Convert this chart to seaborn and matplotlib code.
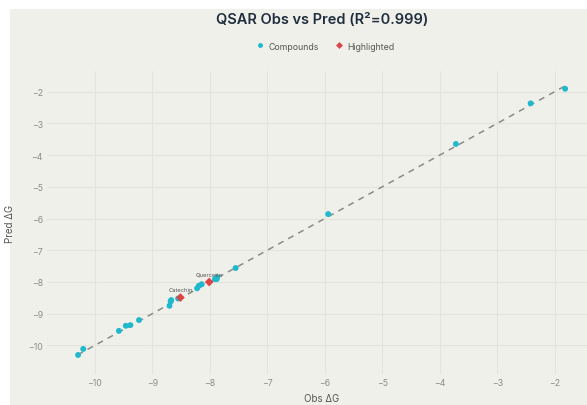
import numpy as np
import pandas as pd
import seaborn as sns
import matplotlib.pyplot as plt
from matplotlib.patches import Rectangle
from matplotlib.lines import Line2D

# data
obs_vals = [-10.29, -10.20, -9.58, -9.46, -9.38, -9.23, -8.70, -8.68, -8.67, -8.55,
            -8.22, -8.19, -8.14, -7.91, -7.87, -7.88, -7.55, -5.94, -3.72, -2.42, -1.82]
pred_vals = [-10.30, -10.11, -9.54, -9.38, -9.36, -9.20, -8.75, -8.61, -8.57, -8.52,
             -8.20, -8.12, -8.07, -7.91, -7.85, -7.91, -7.56, -5.86, -3.65, -2.37, -1.91]
hl_names = ["Catechin", "Quercetin"]
hl_obs = [-8.51, -8.01]
hl_pred = [-8.49, -8.00]
x_ticks = [-10, -9, -8, -7, -6, -5, -4, -3, -2]
y_ticks = [-10, -9, -8, -7, -6, -5, -4, -3, -2]
r2 = 0.999

bg = "#f0f0eb"
cyan = "#1fb8cd"
red = "#db4545"

sns.set_style("whitegrid", {"axes.facecolor": bg, "grid.color": "#e4e4de"})
plt.rcParams['font.family'] = ['Inter', 'DejaVu Sans']

df = pd.DataFrame({"obs": obs_vals, "pred": pred_vals})
hl = pd.DataFrame({"name": hl_names, "obs": hl_obs, "pred": hl_pred})

fig = plt.figure(figsize=(5.87, 4.06), dpi=100, facecolor="white")
fig.patches.append(Rectangle((10 / 587, 0), 1, 1 - 10 / 406, transform=fig.transFigure,
                             facecolor=bg, edgecolor="none", zorder=-1))
ax = fig.add_axes([47 / 587, 1 - 375 / 406, 540 / 587, (375 - 72) / 406])

# ideal line
lo = min(df.obs.min(), df.pred.min())
hi = max(df.obs.max(), df.pred.max())
line = pd.DataFrame({"x": [lo, hi], "y": [lo, hi]})
sns.lineplot(data=line, x="x", y="y", ax=ax, color="#8a8a8a", lw=1.1,
             linestyle=(0, (4, 3.5)), zorder=2)

sns.scatterplot(data=df, x="obs", y="pred", ax=ax, color=cyan, s=18,
                edgecolor="none", zorder=3)
sns.scatterplot(data=hl, x="obs", y="pred", ax=ax, color=red, marker="D", s=20,
                edgecolor="none", zorder=4)
for _, r in hl.iterrows():
    ax.annotate(r["name"], (r["obs"], r["pred"]), xytext=(0, 5.5), textcoords="offset points",
                ha="center", va="center", fontsize=4.2, color="#555555")

ax.set_xlim(-10.83, -1.44)
ax.set_ylim(-10.9, -1.35)
ax.set_xticks(x_ticks)
ax.set_yticks(y_ticks)
ax.tick_params(length=0, labelsize=6.3, labelcolor="#8c8c8c", pad=3)
for s in ax.spines.values():
    s.set_visible(False)
ax.grid(True, lw=0.8)

ax.set_xlabel("Obs ΔG", fontsize=7, color="#555555")
ax.set_ylabel("Pred ΔG", fontsize=7, color="#555555")
ax.xaxis.set_label_coords(0.509, -0.064)
ax.yaxis.set_label_coords(-0.059, 0.5)

fig.text(322 / 587, 1 - 20 / 406, f"QSAR Obs vs Pred (R²={r2})", ha="center", va="center",
         fontsize=10.5, fontweight="semibold", color="#1f2d3d")

handles = [Line2D([], [], marker="o", color=cyan, ls="none", markersize=3.5, markeredgewidth=0),
           Line2D([], [], marker="D", color=red, ls="none", markersize=3.5, markeredgewidth=0)]
fig.legend(handles, ["Compounds", "Highlighted"], loc="center", bbox_to_anchor=(325 / 587, 1 - 47 / 406),
           ncol=2, frameon=False, fontsize=6.3, labelcolor="#555555", handletextpad=0.5,
           columnspacing=1.8, handlelength=1)

fig.savefig("out.png", dpi=100, facecolor="white")
